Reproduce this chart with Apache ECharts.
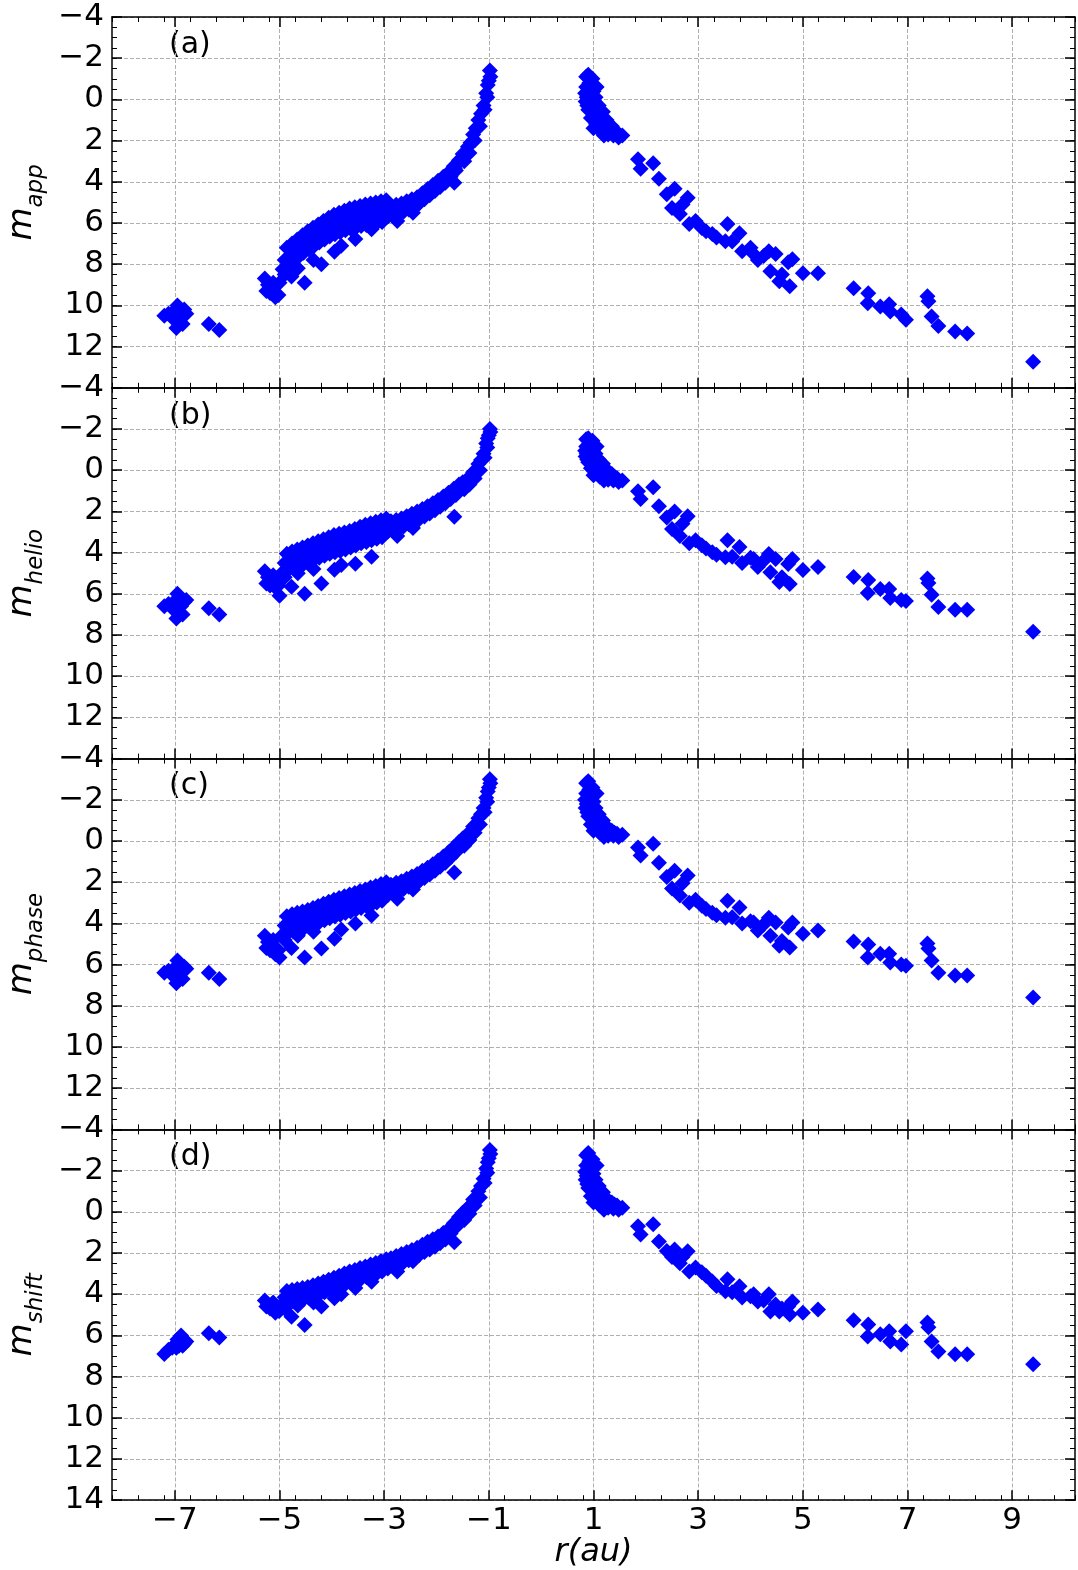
<!DOCTYPE html>
<html>
<head>
<meta charset="utf-8">
<script src="https://cdn.jsdelivr.net/npm/echarts@6/dist/echarts.min.js"></script>
<style>
html, body { margin: 0; padding: 0; background: #fff; }
#chart { width: 1078px; height: 1570px; }
</style>
</head>
<body>
<div id="chart"></div>
<script>
// heliocentric distance r (au), negative = pre-perihelion
var rObs = [
    -7.20,-7.12,-7.05,-6.98,-6.95,-6.92,-6.97,-6.88,-6.82,-6.78,-6.85,-6.35,-6.15,
    -5.28,-5.22,-5.25,-5.18,-5.12,-5.08,-5.02,-5.15,
    -4.86,-4.90,-4.94,-4.76,-4.80,-4.84,-4.66,-4.70,-4.74,-4.56,-4.60,-4.64,-4.46,-4.50,-4.54,
    -4.36,-4.40,-4.44,-4.26,-4.30,-4.34,-4.16,-4.20,-4.24,-4.06,-4.10,-4.14,-3.96,-4.00,-4.04,
    -3.86,-3.90,-3.94,-3.76,-3.80,-3.84,-3.66,-3.70,-3.74,-3.56,-3.60,-3.64,-3.46,-3.50,-3.54,
    -3.36,-3.40,-3.44,-3.26,-3.30,-3.34,-3.16,-3.20,-3.24,-3.06,-3.10,-3.14,-2.96,-3.00,-3.04,
    -5.00,-4.77,-4.52,-4.20,-3.95,-3.82,-3.55,-3.24,-1.66,-4.90,-4.65,-4.35,-2.75,-2.45,
    -2.87,-2.93,-2.77,-2.83,-2.67,-2.73,-2.57,-2.63,-2.47,-2.53,-2.37,-2.43,-2.27,-2.33,
    -2.17,-2.23,-2.07,-2.13,-1.97,-2.03,-1.87,-1.93,-1.77,-1.83,-1.67,-1.73,-1.57,-1.63,
    -1.65,-1.55,-1.50,-1.47,-1.45,-1.40,-1.37,-1.35,-1.30,-1.27,-1.25,-1.20,-1.17,-1.15,
    -1.10,-1.08,-1.05,-1.03,-1.02,-1.00,-0.97,-0.98,
    0.86,0.86,0.87,0.88,0.92,0.93,0.95,0.97,0.98,1.00,1.02,1.00,1.05,1.08,1.10,1.15,1.20,
    1.25,1.30,1.35,1.40,1.45,1.20,1.55,1.12,0.95,1.04,
    0.90,0.84,0.85,0.90,0.95,1.05,1.12,1.18,1.28,1.38,1.48,1.00,0.92,1.06,
    1.85,2.14,1.90,2.25,2.55,2.80,2.50,2.65,2.83,3.07,3.27,3.56,3.79,3.52,3.84,4.06,4.14,
    4.35,4.48,4.80,4.72,4.38,4.55,4.75,5.00,5.29,5.97,6.25,6.24,6.48,6.65,6.67,6.88,6.97,
    7.38,7.40,7.46,7.59,7.91,8.14,9.40,2.70,2.95,3.15,3.35,3.65,4.00,4.25,2.40,4.60
];
var mApp = [
    10.5,10.4,10.6,10.2,10.0,10.8,11.1,10.5,10.2,10.4,10.9,10.9,11.2,
    8.7,9.0,9.3,9.4,8.9,9.6,9.5,9.1,
    7.2,7.8,8.25,7.0,7.6,8.05,6.8,7.4,7.85,6.6,7.2,7.65,6.4,7.0,7.45,
    6.23,6.83,7.28,6.07,6.67,7.12,5.9,6.5,6.95,5.75,6.35,6.8,5.6,6.2,6.65,
    5.5,6.1,6.55,5.4,6.0,6.45,5.3,5.9,6.35,5.23,5.83,6.28,5.17,5.77,6.22,
    5.1,5.7,6.15,5.05,5.65,6.1,5.0,5.6,6.05,4.95,5.55,6.0,4.9,5.5,5.95,
    8.9,8.6,8.9,8.0,7.4,7.1,6.78,6.3,4.05,8.5,8.2,7.8,5.9,5.5,
    5.18,5.68,5.12,5.62,5.05,5.55,4.95,5.45,4.85,5.35,4.75,5.25,4.55,5.05,
    4.35,4.85,4.15,4.65,3.95,4.45,3.75,4.25,3.55,4.05,3.25,3.75,2.95,3.45,
    3.35,3.0,2.65,3.0,2.6,2.3,2.6,2.1,1.7,2.0,1.4,1.0,1.3,0.7,
    0.3,0.5,-0.3,-0.1,-0.7,-0.9,-1.1,-1.4,
    -1.1,-0.6,-0.1,0.3,-0.8,-0.3,0.2,0.6,-1.0,-0.4,0.1,0.9,0.5,1.0,0.3,0.8,1.2,
    1.0,1.4,1.3,1.5,1.6,1.75,1.75,1.5,-0.5,-0.1,
    -1.2,-0.3,0.1,0.5,0.9,1.2,0.9,0.6,1.7,1.75,1.85,1.4,0.0,-0.6,
    2.9,3.1,3.37,3.85,4.34,4.78,5.27,5.56,6.05,6.24,6.54,6.05,6.5,6.88,7.37,7.5,7.8,
    7.37,7.5,7.76,7.9,8.34,8.83,9.07,8.44,8.44,9.17,9.41,9.9,10.05,9.95,10.3,10.44,10.7,
    9.56,9.8,10.54,11.0,11.27,11.37,12.73,5.1,5.9,6.4,6.7,6.9,7.2,7.6,4.6,8.5
];
var mHelio = [
    6.6,6.5,6.7,6.3,6.0,6.9,7.2,6.6,6.4,6.3,7.0,6.7,7.0,
    4.9,5.2,5.5,5.6,5.1,5.7,5.6,5.3,
    4.05,4.5,4.95,3.95,4.4,4.85,3.85,4.3,4.75,3.75,4.2,4.65,3.65,4.1,4.55,
    3.55,4.0,4.45,3.45,3.9,4.35,3.35,3.8,4.25,3.25,3.7,4.15,3.15,3.6,4.05,
    3.08,3.53,3.98,3.02,3.47,3.92,2.95,3.4,3.85,2.85,3.3,3.75,2.75,3.2,3.65,
    2.65,3.1,3.55,2.58,3.03,3.48,2.5,2.95,3.4,2.43,2.88,3.33,2.35,2.8,3.25,
    6.1,5.66,6.0,5.5,4.83,4.6,4.54,4.2,2.26,5.2,5.0,4.8,3.2,2.8,
    2.48,2.98,2.42,2.92,2.35,2.85,2.23,2.73,2.12,2.62,2.0,2.5,1.88,2.38,
    1.75,2.25,1.6,2.1,1.45,1.95,1.28,1.78,1.1,1.6,0.9,1.4,0.7,1.2,
    1.05,0.85,0.58,0.93,0.6,0.4,0.7,0.35,0.1,0.4,0.0,-0.3,0.0,-0.5,
    -0.8,-0.6,-1.3,-1.1,-1.55,-1.7,-1.85,-2.0,
    -1.5,-1.15,-0.8,-0.52,-1.29,-0.94,-0.59,-0.31,-1.43,-1.01,-0.66,-0.1,-0.38,-0.03,-0.52,-0.17,0.11,
    -0.03,0.25,0.18,0.32,0.39,0.5,0.5,0.32,-1.08,-0.8,
    -1.55,-0.94,-0.66,-0.38,-0.1,0.11,-0.1,-0.31,0.46,0.5,0.57,0.25,-0.73,-1.15,
    1.02,0.83,1.4,1.75,2.0,2.23,2.85,3.2,3.55,3.64,3.98,3.4,3.73,4.22,4.5,4.31,4.7,
    4.07,4.31,4.31,4.55,4.95,5.43,5.52,4.85,4.7,5.18,5.33,5.96,5.77,5.77,6.2,6.3,6.35,
    5.26,5.47,6.05,6.64,6.78,6.78,7.84,2.6,3.4,3.8,4.1,4.2,4.25,4.4,2.3,5.2
];
var mPhase = [
    6.4,6.3,6.5,6.1,5.8,6.6,6.9,6.3,6.1,6.2,6.7,6.4,6.7,
    4.6,4.9,5.2,5.3,4.8,5.5,5.3,5.0,
    3.65,4.1,4.55,3.55,4.0,4.45,3.48,3.93,4.38,3.42,3.87,4.32,3.35,3.8,4.25,
    3.25,3.7,4.15,3.15,3.6,4.05,3.05,3.5,3.95,2.95,3.4,3.85,2.85,3.3,3.75,
    2.77,3.22,3.67,2.68,3.13,3.58,2.6,3.05,3.5,2.52,2.97,3.42,2.43,2.88,3.33,
    2.35,2.8,3.25,2.26,2.71,3.16,2.18,2.63,3.08,2.09,2.54,2.99,2.0,2.45,2.9,
    5.66,5.2,5.66,5.22,4.74,4.3,4.0,3.62,1.53,4.8,4.6,4.4,2.8,2.35,
    2.12,2.62,2.03,2.53,1.95,2.45,1.83,2.33,1.72,2.22,1.6,2.1,1.45,1.95,
    1.3,1.8,1.13,1.63,0.95,1.45,0.75,1.25,0.55,1.05,0.3,0.8,0.05,0.55,
    0.42,0.15,-0.12,0.23,-0.1,-0.35,-0.05,-0.42,-0.7,-0.4,-0.8,-1.1,-0.8,-1.3,
    -1.6,-1.4,-2.1,-1.9,-2.4,-2.6,-2.8,-3.0,
    -2.8,-2.3,-1.8,-1.4,-2.5,-2.0,-1.5,-1.1,-2.6,-1.9,-1.4,-0.9,-1.2,-0.8,-1.3,-0.9,-0.6,
    -0.7,-0.5,-0.5,-0.4,-0.35,-0.2,-0.3,-0.4,-2.2,-1.6,
    -2.9,-2.0,-1.6,-1.2,-0.8,-0.6,-0.8,-1.0,-0.25,-0.25,-0.2,-0.5,-1.7,-2.3,
    0.32,0.13,0.7,1.05,1.44,1.68,2.3,2.65,3.0,3.14,3.48,2.9,3.23,3.72,4.0,3.96,4.35,
    3.72,3.96,3.96,4.2,4.6,5.08,5.17,4.5,4.35,4.88,5.03,5.66,5.47,5.47,5.9,6.0,6.05,
    4.98,5.22,5.8,6.39,6.53,6.53,7.6,2.05,2.85,3.3,3.6,3.7,3.9,4.05,1.75,4.85
];
var mShift = [
    6.9,6.7,6.6,6.4,6.2,6.5,6.6,6.0,6.4,6.3,6.5,5.9,6.1,
    4.3,4.5,4.6,4.7,4.4,4.9,4.8,4.5,
    3.85,4.15,4.45,3.8,4.1,4.4,3.75,4.05,4.35,3.7,4.0,4.3,3.65,3.95,4.25,
    3.57,3.87,4.17,3.48,3.78,4.08,3.4,3.7,4.0,3.3,3.6,3.9,3.2,3.5,3.8,
    3.1,3.4,3.7,3.0,3.3,3.6,2.9,3.2,3.5,2.82,3.12,3.42,2.73,3.03,3.33,
    2.65,2.95,3.25,2.56,2.86,3.16,2.48,2.78,3.08,2.39,2.69,2.99,2.3,2.6,2.9,
    4.8,5.1,5.5,4.6,4.2,4.0,3.7,3.4,1.48,4.7,4.55,4.4,2.9,2.4,
    2.25,2.75,2.15,2.65,2.05,2.55,1.95,2.45,1.85,2.35,1.75,2.25,1.6,2.1,
    1.45,1.95,1.33,1.83,1.2,1.7,1.03,1.53,0.85,1.35,0.55,1.05,0.25,0.75,
    0.65,0.35,0.05,0.4,0.05,-0.2,0.1,-0.3,-0.6,-0.3,-0.7,-1.0,-0.7,-1.25,
    -1.6,-1.4,-2.1,-1.9,-2.4,-2.6,-2.8,-3.0,
    -2.75,-2.25,-1.75,-1.35,-2.45,-1.95,-1.45,-1.05,-2.55,-1.85,-1.35,-0.85,-1.15,-0.75,-1.25,-0.85,-0.55,
    -0.65,-0.45,-0.45,-0.35,-0.3,-0.1,-0.2,-0.3,-2.15,-1.55,
    -2.85,-1.95,-1.55,-1.15,-0.75,-0.55,-0.75,-0.95,-0.2,-0.15,-0.1,-0.45,-1.65,-2.25,
    0.7,0.6,1.1,1.44,1.83,1.92,2.2,2.5,2.9,2.94,3.38,3.28,3.62,3.86,4.16,4.0,4.35,
    4.0,4.5,4.35,4.6,4.84,4.84,4.98,4.9,4.74,5.27,5.47,6.05,5.95,5.8,6.3,6.44,5.8,
    5.37,5.6,6.3,6.78,6.92,6.92,7.4,2.2,2.7,3.1,3.6,3.9,4.1,4.3,1.9,4.7
];
var xTicks = [-7, -5, -3, -1, 1, 3, 5, 7, 9];
var panelTags = ['(a)', '(b)', '(c)', '(d)'];
var panelSubs = ['app', 'helio', 'phase', 'shift'];
var panelMags = [mApp, mHelio, mPhase, mShift];

var FONT = 'DejaVu Sans';
var LEFT = 112, WIDTH = 963, TOP = 17, PANEL_H = 370.8;

function minus(v) {
    return String(v).replace('-', '\u2212');
}

var grids = [], xAxes = [], yAxes = [], series = [], texts = [];

[0, 1, 2, 3].forEach(function (i) {
    var last = i === 3;
    var top = TOP + i * PANEL_H;
    grids.push({ left: LEFT, width: WIDTH, top: top, height: PANEL_H, outerBoundsMode: 'none' });

    ['bottom', 'top'].forEach(function (pos) {
        var showName = last && pos === 'bottom';
        xAxes.push({
            gridIndex: i, type: 'value', position: pos,
            min: -8.2, max: 10.2, interval: 0.5,
            axisLine: { show: true, onZero: false, lineStyle: { color: '#000', width: 1.5 } },
            axisTick: { show: true, inside: true, length: 10, customValues: xTicks,
                lineStyle: { color: '#000', width: 1.5 } },
            axisLabel: { show: showName, customValues: xTicks, formatter: minus,
                color: '#000', fontSize: 31, fontFamily: FONT, margin: 5 },
            splitLine: { show: pos === 'bottom', lineStyle: { color: '#b0b0b0', width: 1, type: [4, 2] } },
            name: showName ? 'r(au)' : '',
            nameLocation: 'middle', nameGap: 35,
            nameTextStyle: { fontSize: 32, fontStyle: 'italic', fontFamily: FONT, color: '#000' }
        });
        xAxes.push({
            gridIndex: i, type: 'value', position: pos,
            min: -8.2, max: 10.2, interval: 0.5,
            axisLine: { show: false, onZero: false },
            axisTick: { show: true, inside: true, length: 5, lineStyle: { color: '#000', width: 1 } },
            axisLabel: { show: false },
            splitLine: { show: false }
        });
    });

    ['left', 'right'].forEach(function (pos) {
        var isLeft = pos === 'left';
        yAxes.push({
            gridIndex: i, type: 'value', position: pos, inverse: true,
            min: -4, max: 14, interval: 2,
            axisLine: { show: true, onZero: false, lineStyle: { color: '#000', width: 1.5 } },
            axisTick: { show: true, inside: true, length: 10, lineStyle: { color: '#000', width: 1.5 } },
            axisLabel: {
                show: isLeft, color: '#000', fontSize: 31, fontFamily: FONT, margin: 8,
                formatter: function (v) { return (v === 14 && !last) ? '' : minus(v); }
            },
            splitLine: { show: isLeft, lineStyle: { color: '#b0b0b0', width: 1, type: [4, 2] } },
            name: isLeft ? '{m|m}{s|' + panelSubs[i] + '}' : '',
            nameLocation: 'middle', nameRotate: 90, nameGap: 66,
            nameTextStyle: {
                rich: {
                    m: { fontSize: 34, fontStyle: 'italic', fontFamily: FONT, color: '#000' },
                    s: { fontSize: 23, fontStyle: 'italic', fontFamily: FONT, color: '#000',
                        verticalAlign: 'bottom', padding: [0, 0, -8, 0] }
                }
            }
        });
        yAxes.push({
            gridIndex: i, type: 'value', position: pos, inverse: true,
            min: -4, max: 14, interval: 0.5,
            axisLine: { show: false, onZero: false },
            axisTick: { show: true, inside: true, length: 5, lineStyle: { color: '#000', width: 1 } },
            axisLabel: { show: false },
            splitLine: { show: false }
        });
    });

    var mags = panelMags[i];
    series.push({
        type: 'scatter',
        xAxisIndex: 4 * i, yAxisIndex: 4 * i,
        data: rObs.map(function (r, k) { return [r, mags[k]]; }),
        symbol: 'diamond', symbolSize: 16,
        itemStyle: { color: '#0000ff', opacity: 1 },
        silent: true
    });

    texts.push({
        type: 'text', left: 169, top: top + 13,
        style: { text: panelTags[i], fontSize: 30, fontFamily: FONT, fill: '#000' }
    });
});

var myChart = echarts.init(document.getElementById('chart'));
var option = {
    backgroundColor: '#fff',
    animation: false,
    grid: grids,
    xAxis: xAxes,
    yAxis: yAxes,
    series: series,
    graphic: texts
};
myChart.setOption(option);
</script>
</body>
</html>
